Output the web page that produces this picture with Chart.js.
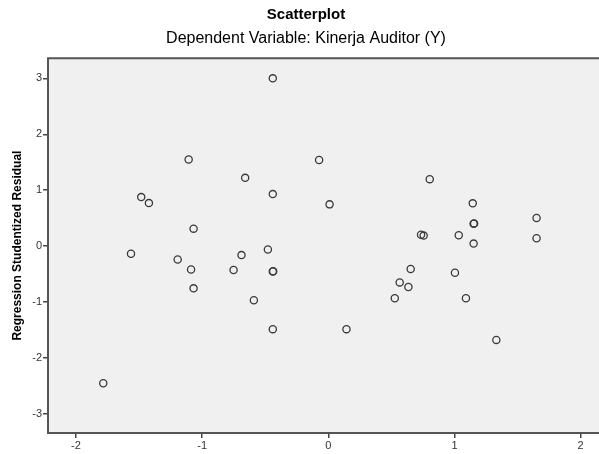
<!DOCTYPE html>
<html>
<head>
<meta charset="utf-8">
<script src="https://cdn.jsdelivr.net/npm/chart.js@4.4.1/dist/chart.umd.min.js"></script>
<style>
  html, body { margin: 0; padding: 0; background: #fff; overflow: hidden; }
  #wrap { width: 599px; height: 454px; overflow: hidden; }
</style>
</head>
<body>
<div id="wrap"><canvas id="residChart" width="612" height="454"></canvas></div>
<script>
// standardized predicted value (x) and studentized residual (y)
var predicted = [
  -0.44, -1.107, -0.073, -0.659, 0.804, -1.483, -1.422, -0.44, 0.01, -1.068,
  1.145, 1.651, 1.651, 1.152, 1.156, 0.735, 0.756, 1.034, 1.152, -1.564,
  -1.194, -1.088, -1.068, -0.688, -0.479, -0.751, -0.44, -0.437, -0.59, -0.44,
  0.144, 0.653, 0.566, 0.635, 0.527, 1.004, 1.091, 1.332, -1.784
];
var residual = [
  3.00, 1.548, 1.541, 1.221, 1.198, 0.877, 0.770, 0.931, 0.747, 0.313,
  0.765, 0.504, 0.142, 0.402, 0.407, 0.206, 0.189, 0.196, 0.046, -0.137,
  -0.238, -0.416, -0.754, -0.160, -0.060, -0.427, -0.452, -0.448, -0.968, -1.484,
  -1.484, -0.409, -0.648, -0.730, -0.932, -0.475, -0.932, -1.676, -2.450
];

var xTicks = [-2, -1, 0, 1, 2];
var yTicks = [-3, -2, -1, 0, 1, 2, 3];

var points = predicted.map(function (x, i) { return { x: x, y: residual[i] }; });

// grey plot background with a dark frame (left, top, bottom)
var plotFrame = {
  id: 'plotFrame',
  beforeDatasetsDraw: function (chart) {
    var a = chart.chartArea, c = chart.ctx;
    c.save();
    c.fillStyle = '#f0f0f0';
    c.fillRect(a.left, a.top, chart.width - a.left, a.bottom - a.top);
    c.restore();
  },
  afterDraw: function (chart) {
    var a = chart.chartArea, c = chart.ctx;
    c.save();
    c.strokeStyle = '#555';
    c.lineWidth = 2;
    c.beginPath();
    c.moveTo(chart.width, a.top);
    c.lineTo(a.left, a.top);
    c.lineTo(a.left, a.bottom);
    c.lineTo(chart.width, a.bottom);
    c.stroke();
    c.restore();
  }
};

var ctx = document.getElementById('residChart').getContext('2d');

var chart = new Chart(ctx, {
  type: 'scatter',
  data: {
    datasets: [{
      label: 'Residual',
      data: points,
      pointRadius: 3.6,
      pointHoverRadius: 3.6,
      pointBackgroundColor: 'rgba(0,0,0,0)',
      pointBorderColor: '#3a3a3a',
      pointBorderWidth: 1.3
    }]
  },
  options: {
    responsive: false,
    animation: false,
    layout: { padding: { left: 0, right: 0, top: 0, bottom: 0 } },
    plugins: {
      legend: { display: false },
      tooltip: { enabled: false },
      title: {
        display: true,
        text: 'Scatterplot',
        color: '#000',
        font: { family: "'Liberation Sans', Arial, sans-serif", size: 15, weight: 'bold' },
        padding: { top: 6, bottom: 3 }
      },
      subtitle: {
        display: true,
        text: 'Dependent Variable: Kinerja Auditor (Y)',
        color: '#000',
        font: { family: "'Liberation Sans', Arial, sans-serif", size: 16 },
        padding: { top: 2, bottom: 10 }
      }
    },
    scales: {
      x: {
        type: 'linear',
        min: -2.222,
        max: 2.21,
        afterBuildTicks: function (scale) {
          scale.ticks = xTicks.map(function (v) { return { value: v }; });
        },
        afterFit: function (scale) { scale.height = 21; },
        border: { display: false },
        grid: { drawOnChartArea: false, drawTicks: true, tickLength: 5, color: '#444', lineWidth: 1.5 },
        ticks: {
          color: '#333',
          padding: 1,
          maxRotation: 0,
          font: { family: "'Liberation Sans', Arial, sans-serif", size: 11 }
        }
      },
      y: {
        type: 'linear',
        min: -3.34,
        max: 3.36,
        afterBuildTicks: function (scale) {
          scale.ticks = yTicks.map(function (v) { return { value: v }; });
        },
        afterFit: function (scale) { scale.width = 48; },
        border: { display: false },
        grid: { drawOnChartArea: false, drawTicks: true, tickLength: 5, color: '#444', lineWidth: 1.5 },
        title: {
          display: true,
          text: 'Regression Studentized Residual',
          color: '#000',
          font: { family: "'Liberation Sans', Arial, sans-serif", size: 12, weight: 'bold' },
          padding: { top: 10, bottom: 0 }
        },
        ticks: {
          color: '#333',
          padding: 1,
          font: { family: "'Liberation Sans', Arial, sans-serif", size: 11 }
        }
      }
    }
  },
  plugins: [plotFrame]
});
</script>
</body>
</html>
